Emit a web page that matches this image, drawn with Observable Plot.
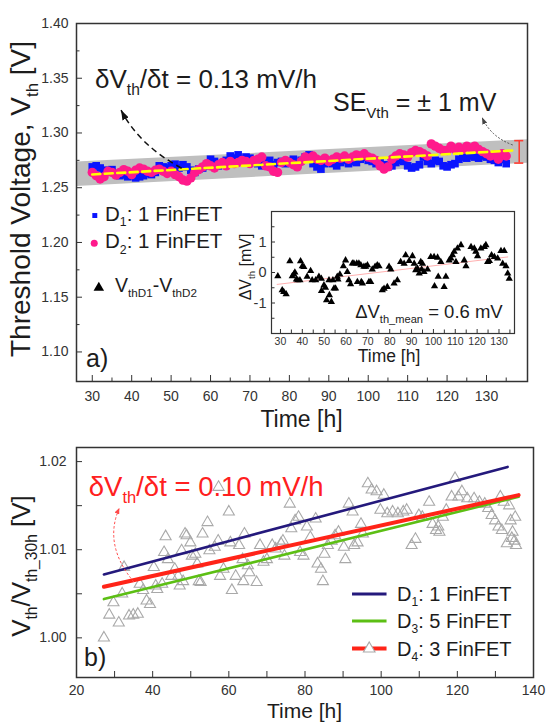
<!DOCTYPE html>
<html>
<head>
<meta charset="utf-8">
<script src="https://cdn.jsdelivr.net/npm/d3@7"></script>
<script src="https://cdn.jsdelivr.net/npm/@observablehq/plot@0.6"></script>
<style>
html,body{margin:0;padding:0;background:#fff;}
#fig{position:relative;width:546px;height:723px;overflow:hidden;background:#fff;}
#fig > svg{position:absolute;overflow:visible;}
</style>
</head>
<body>
<div id="fig"></div>
<script>
// ================= DATA =================
// panel a) : threshold voltage of two single-fin devices
const timeA = [30,31,32,33,34,35,36,37,38,39,40,41,42,43,44,45,46,47,48,49,
50,51,52,53,54,55,56,57,58,59,60,61,62,63,64,65,66,67,68,69,
70,71,72,73,74,75,76,77,78,79,80,81,82,83,84,85,86,87,88,89,
90,91,92,93,94,95,96,97,98,99,100,101,102,103,104,105,106,107,108,109,
110,111,112,113,114,115,116,117,118,119,120,121,122,123,124,125,126,127,128,129,
130,131,132,133,134,135];
const vthD1 = [1.2690,1.2700,1.2680,1.2660,1.2650,1.2665,1.2630,1.2610,1.2620,1.2600,
1.2610,1.2590,1.2600,1.2610,1.2630,1.2620,1.2640,1.2700,1.2690,1.2680,
1.2700,1.2715,1.2680,1.2710,1.2690,1.2660,1.2640,1.2670,1.2680,1.2700,
1.2760,1.2740,1.2700,1.2720,1.2750,1.2790,1.2770,1.2800,1.2760,1.2780,
1.2770,1.2740,1.2720,1.2700,1.2730,1.2750,1.2710,1.2730,1.2740,1.2720,
1.2740,1.2760,1.2730,1.2750,1.2780,1.2800,1.2720,1.2690,1.2670,1.2720,
1.2740,1.2720,1.2700,1.2730,1.2750,1.2720,1.2740,1.2730,1.2760,1.2780,
1.2750,1.2740,1.2720,1.2740,1.2710,1.2690,1.2700,1.2730,1.2750,1.2740,
1.2700,1.2680,1.2690,1.2710,1.2780,1.2740,1.2720,1.2750,1.2740,1.2700,
1.2690,1.2710,1.2720,1.2760,1.2780,1.2770,1.2790,1.2780,1.2770,1.2790,
1.2780,1.2760,1.2750,1.2730,1.2760,1.2720];
const vthD2 = [1.2640,1.2610,1.2580,1.2600,1.2650,1.2640,1.2615,1.2640,1.2665,1.2650,
1.2620,1.2660,1.2680,1.2670,1.2650,1.2640,1.2660,1.2670,1.2650,1.2630,
1.2650,1.2620,1.2600,1.2570,1.2560,1.2590,1.2640,1.2665,1.2690,1.2720,
1.2700,1.2680,1.2710,1.2730,1.2700,1.2740,1.2720,1.2730,1.2750,1.2740,
1.2720,1.2750,1.2760,1.2780,1.2700,1.2690,1.2650,1.2640,1.2730,1.2750,
1.2730,1.2710,1.2690,1.2740,1.2780,1.2770,1.2790,1.2760,1.2750,1.2770,
1.2740,1.2760,1.2780,1.2770,1.2790,1.2760,1.2780,1.2800,1.2790,1.2810,
1.2780,1.2770,1.2750,1.2700,1.2670,1.2690,1.2760,1.2790,1.2810,1.2800,
1.2780,1.2820,1.2840,1.2830,1.2810,1.2790,1.2900,1.2880,1.2860,1.2840,
1.2840,1.2880,1.2850,1.2870,1.2850,1.2880,1.2860,1.2880,1.2850,1.2830,
1.2810,1.2790,1.2800,1.2760,1.2810,1.2790];
const fitTimeA = [30, 136.5];
const fitVthA = [1.2621, 1.2840];
const bandTimeA = [26, 140.4];
const bandLowA = [1.2512, 1.2724];
const bandHighA = [1.2734, 1.2938];
const seTimeA = [138.3];
const seLowA = [1.2725];
const seHighA = [1.2930];
const xTicksA = [30,40,50,60,70,80,90,100,110,120,130];
const xMinorA = [35,45,55,65,75,85,95,105,115,125,135];
const yTicksA = [1.10,1.15,1.20,1.25,1.30,1.35,1.40];
const yMinorA = [1.125,1.175,1.225,1.275,1.325,1.375];
const legendNamesA = ["1","2"];
const legendFinsA = ["1 FinFET","1 FinFET"];

// inset : V_thD1 - V_thD2 [mV]
const timeDiff = [28.8,30.8,31.5,32.6,34.3,35.4,36.1,36.6,37.3,37.9,
38.9,39.2,40.0,40.7,42.2,43.8,44.5,46.1,47.6,48.7,
48.8,49.9,50.6,51.1,52.2,52.4,53.3,54.0,54.5,55.2,
56.0,56.3,57.2,58.8,59.8,60.6,61.3,62.1,62.9,63.6,
64.9,65.2,65.9,66.8,67.0,67.5,68.2,69.0,69.8,70.5,
71.3,72.0,73.3,74.3,75.1,76.6,77.4,78.9,79.7,80.5,
82.0,83.5,85.0,86.6,87.3,88.9,90.4,91.2,91.9,92.7,
93.5,94.2,94.6,95.0,95.7,97.3,98.8,100.3,100.5,101.9,
102.2,103.4,104.9,105.7,107.2,108.0,108.7,109.5,110.3,111.0,
112.6,114.1,114.9,117.2,118.7,119.4,120.2,121.7,123.3,124.0,
124.8,125.6,126.6,127.9,129.4,130.9,131.7,132.4,133.2,134.0,
134.7];
const dVth = [-0.12,-0.58,-0.64,-0.71,0.37,-0.12,-0.06,0.00,-0.23,-0.25,
-0.25,0.37,0.21,0.18,-0.14,0.05,-0.25,-0.25,-0.14,-0.20,
-0.60,-0.42,-0.50,-0.91,-0.25,-0.74,-0.96,-0.25,-0.52,-0.52,
-0.14,-0.23,-0.06,0.21,0.40,0.02,-0.25,-0.38,0.30,0.30,
0.30,-0.31,0.30,0.24,-0.31,-0.36,0.19,0.19,0.24,-0.31,
-0.31,0.10,0.19,0.24,0.21,-0.58,-0.53,-0.47,0.19,0.10,
-0.36,-0.25,0.35,0.29,0.57,0.38,0.54,0.29,0.08,0.13,
-0.03,0.35,0.10,0.29,0.02,0.10,0.51,0.51,-0.45,0.49,
-0.14,0.35,-0.47,-0.14,0.40,0.46,0.57,0.68,0.35,0.79,
0.90,0.40,0.21,0.84,0.79,0.68,0.54,0.79,0.84,0.90,
0.35,0.38,0.57,0.51,0.46,0.71,0.29,0.71,0.21,-0.03,
-0.20];
const diffFitTime = [28.5, 134];
const diffFitVal = [-0.39, 0.51];
const xTicksI = [30,40,50,60,70,80,90,100,110,120,130];
const xMinorI = [35,45,55,65,75,85,95,105,115,125,135];
const yTicksI = [-1,0,1];
const yMinorI = [-1.5,-0.5,0.5,1.5];

// panel b) : normalised threshold voltage
const timeB = [27.2,28.6,29.7,31.1,32.0,32.5,33.8,34.9,36.1,36.6,
37.5,38.4,39.3,40.3,40.8,41.2,42.5,43.0,43.4,44.0,
44.9,45.8,46.7,47.1,47.6,48.0,48.5,48.9,49.9,50.3,
51.2,51.7,52.1,52.6,53.1,54.4,54.9,56.3,57.2,57.3,
57.7,58.6,60.0,60.4,60.8,61.8,62.7,63.6,63.8,64.1,
65.0,65.4,67.3,68.2,69.1,70.0,71.4,72.3,73.7,74.2,
74.6,76.0,76.4,77.4,78.3,78.7,79.6,80.5,81.4,82.8,
83.3,84.2,84.7,85.1,86.0,87.0,87.9,88.8,90.2,90.6,
91.5,92.5,92.9,93.8,94.7,95.2,96.5,97.5,98.8,99.8,
100.7,101.6,103.0,104.4,105.8,106.7,108.0,109.0,109.9,110.8,
112.6,113.5,114.4,115.0,115.3,116.2,117.1,118.5,119.4,120.3,
121.2,122.6,124.4,125.8,127.2,128.1,129.0,129.9,130.8,131.3,
131.7,132.2,133.0,133.6,134.0,134.3,134.5,135.0,135.2,135.4];
const vthNormD4 = [1.0000,1.0026,1.0040,1.0017,1.0050,1.0080,1.0025,1.0026,1.0027,1.0061,
1.0054,1.0042,1.0038,1.0080,1.0059,1.0055,1.0061,1.0097,1.0115,1.0089,
1.0070,1.0078,1.0070,1.0059,1.0099,1.0064,1.0118,1.0116,1.0108,1.0093,
1.0095,1.0084,1.0064,1.0063,1.0118,1.0131,1.0099,1.0103,1.0110,1.0171,
1.0070,1.0078,1.0143,1.0108,1.0054,1.0070,1.0105,1.0089,1.0064,1.0118,
1.0082,1.0074,1.0063,1.0105,1.0086,1.0089,1.0105,1.0101,1.0107,1.0110,
1.0093,1.0152,1.0124,1.0133,1.0137,1.0097,1.0093,1.0126,1.0114,1.0135,
1.0084,1.0078,1.0064,1.0095,1.0105,1.0110,1.0116,1.0120,1.0103,1.0089,
1.0152,1.0143,1.0105,1.0108,1.0129,1.0118,1.0175,1.0168,1.0166,1.0145,
1.0162,1.0141,1.0143,1.0141,1.0143,1.0145,1.0105,1.0112,1.0139,1.0137,
1.0154,1.0129,1.0122,1.0126,1.0120,1.0137,1.0145,1.0160,1.0181,1.0160,
1.0166,1.0158,1.0158,1.0154,1.0152,1.0147,1.0139,1.0133,1.0126,1.0160,
1.0122,1.0154,1.0107,1.0150,1.0133,1.0113,1.0120,1.0110,1.0137,1.0105];
const fitTimeD1 = [27.2, 133.2];
const fitD1 = [1.0072, 1.0194];
const fitTimeD3 = [27.2, 136.1];
const fitD3 = [1.0044, 1.0160];
const fitTimeD4 = [27.2, 136.1];
const fitD4 = [1.0058, 1.0162];
const xTicksB = [20,40,60,80,100,120,140];
const xMinorB = [30,50,70,90,110,130];
const yTicksB = [1.00,1.01,1.02];
const yMinorB = [1.005,1.015];
const legendNamesB = ["1","3","4"];
const legendFinsB = ["1 FinFET","5 FinFET","3 FinFET"];

// ================= STYLE / HELPERS =================
const FONT = '"Liberation Sans", Arial, Helvetica, sans-serif';
const INK = "#1c1c1c";
const AX = "#333";
const BLUE = "#0a14ff", PINK = "#ff1a8c", YELLOW = "#ffff00", GREYBAND = "#bfbfbf";
const NAVY = "#24197c", GREEN = "#5cbf14", RED = "#ff2418", SEBAR = "#ff3b30";

const fig = document.getElementById("fig");
const zip = (a, b) => a.map((t, i) => ({t, v: b[i]}));

function rich(svg, x, y, parts, {size = 20, fill = INK, anchor = "start", rotate = 0, sub = 0.6, shift = 0.27} = {}) {
  const t = d3.select(svg).append("text")
    .attr("font-family", FONT).attr("font-size", size).attr("fill", fill)
    .attr("text-anchor", anchor).style("white-space", "pre");
  if (rotate) t.attr("transform", `translate(${x},${y}) rotate(${rotate})`);
  else t.attr("x", x).attr("y", y);
  let cur = 0;
  for (const p of parts) {
    const isSub = Array.isArray(p);
    const s = isSub ? p[0] : p;
    const target = isSub ? size * shift : 0;
    const ts = t.append("tspan").text(s).attr("dy", target - cur);
    if (isSub) ts.attr("font-size", size * sub);
    cur = target;
  }
  return t;
}

function arrow(svg, id, pts, {stroke = "#000", width = 1.4, dash = "5,4", head = [9, 7]} = {}) {
  const s = d3.select(svg);
  let defs = s.select("defs");
  if (defs.empty()) defs = s.append("defs");
  defs.append("marker").attr("id", id)
    .attr("viewBox", `0 0 ${head[0]} ${head[1]}`)
    .attr("refX", head[0]).attr("refY", head[1] / 2)
    .attr("markerWidth", head[0]).attr("markerHeight", head[1])
    .attr("markerUnits", "userSpaceOnUse").attr("orient", "auto")
    .append("path").attr("d", `M0,0L${head[0]},${head[1] / 2}L0,${head[1]}Z`).attr("fill", stroke);
  const [a, c, b] = pts;
  s.append("path").attr("d", `M${a[0]},${a[1]}Q${c[0]},${c[1]} ${b[0]},${b[1]}`)
    .attr("fill", "none").attr("stroke", stroke).attr("stroke-width", width)
    .attr("stroke-dasharray", dash).attr("marker-end", `url(#${id})`);
}

function axes(xMaj, xMin, yMaj, yMin, o) {
  return [
    Plot.axisX({ticks: xMaj, tickSize: -o.tl, tickPadding: o.xpad + o.tl, tickFormat: o.xf, label: null, fontSize: o.xfs, stroke: AX, fill: AX}),
    Plot.axisX({ticks: xMin, tickSize: -o.tm, tickFormat: () => "", label: null, stroke: AX}),
    Plot.axisY({ticks: yMaj, tickSize: -o.tl, tickPadding: o.ypad + o.tl, tickFormat: o.yf, label: null, fontSize: o.yfs, stroke: AX, fill: AX}),
    Plot.axisY({ticks: yMin, tickSize: -o.tm, tickFormat: () => "", label: null, stroke: AX})
  ];
}

// ================= PANEL A =================
const bandRows = bandTimeA.map((t, i) => ({t, lo: bandLowA[i], hi: bandHighA[i]}));
const seRows = seTimeA.map((t, i) => ({t, lo: seLowA[i], hi: seHighA[i]}));
const plotA = Plot.plot({
  width: 546, height: 440,
  marginLeft: 76, marginRight: 19, marginTop: 23, marginBottom: 59,
  x: {domain: [26, 140.4]},
  y: {domain: [1.073, 1.40]},
  style: {fontFamily: FONT, fontSize: "14px", color: INK, background: "transparent", overflow: "visible"},
  marks: [
    Plot.areaY(bandRows, {x: "t", y1: "lo", y2: "hi", fill: GREYBAND}),
    Plot.dot(zip(timeA, vthD1), {x: "t", y: "v", symbol: "square", r: 4.3, fill: BLUE}),
    Plot.dot(zip(timeA, vthD2), {x: "t", y: "v", r: 4.7, fill: PINK}),
    Plot.line(zip(fitTimeA, fitVthA), {x: "t", y: "v", stroke: YELLOW, strokeWidth: 2.6, strokeDasharray: "8,4.5"}),
    Plot.ruleX(seRows, {x: "t", y1: "lo", y2: "hi", stroke: SEBAR, strokeWidth: 1.6}),
    Plot.ruleY(seRows, {y: "lo", x1: d => d.t - 1.15, x2: d => d.t + 1.15, stroke: SEBAR, strokeWidth: 1.6}),
    Plot.ruleY(seRows, {y: "hi", x1: d => d.t - 1.15, x2: d => d.t + 1.15, stroke: SEBAR, strokeWidth: 1.6}),
    // legend symbols
    Plot.dot([{t: 30.64, v: 1.2246}], {x: "t", y: "v", symbol: "square", r: 2.8, fill: BLUE}),
    Plot.dot([{t: 30.5, v: 1.1993}], {x: "t", y: "v", r: 3.5, fill: PINK}),
    Plot.dot([{t: 31.66, v: 1.1586}], {x: "t", y: "v", symbol: "triangle", r: 3.9, fill: "#000"}),
    ...axes(xTicksA, xMinorA, yTicksA, yMinorA, {tl: 6, tm: 3.5, xpad: 10, ypad: 8, xf: d => d, yf: d => d.toFixed(2), xfs: 14, yfs: 14}),
    Plot.frame({stroke: AX, strokeWidth: 1.5})
  ]
});
plotA.style.left = "0px"; plotA.style.top = "0px";
fig.appendChild(plotA);
{
  const sx = plotA.scale("x"), sy = plotA.scale("y");
  const P = (t, v) => [sx.apply(t), sy.apply(v)];
  let p;
  p = P(30.82, 1.3406); rich(plotA, p[0], p[1], ["δV", ["th"], "/δt = 0.13 mV/h"], {size: 26});
  p = P(91.19, 1.3196); rich(plotA, p[0], p[1], ["SE", ["Vth"], " = ± 1 mV"], {size: 25});
  p = P(33.36, 1.2194); rich(plotA, p[0], p[1], ["D", [legendNamesA[0]], ": " + legendFinsA[0]], {size: 20.5});
  p = P(33.36, 1.1942); rich(plotA, p[0], p[1], ["D", [legendNamesA[1]], ": " + legendFinsA[1]], {size: 20.5});
  p = P(35.89, 1.1546); rich(plotA, p[0], p[1], ["V", ["thD1"], "-V", ["thD2"]], {size: 19.5});
  p = P(28.54, 1.0858); rich(plotA, p[0], p[1], ["a)"], {size: 25});
  arrow(plotA, "ahA1", [P(52.8, 1.2673), P(41.9, 1.2887), P(37.43, 1.3205)], {stroke: "#111", width: 1.5, dash: "6,4", head: [10, 7]});
  arrow(plotA, "ahA2", [P(136.77, 1.2886), P(131.18, 1.2960), P(128.98, 1.3139)], {stroke: "#444", width: 0.9, dash: "2,1.6", head: [7, 5]});
  // axis titles
  rich(plotA, 30, 199, ["Threshold Voltage, V", ["th"], " [V]"], {size: 28, anchor: "middle", rotate: -90});
  rich(plotA, 301.5, 427, ["Time [h]"], {size: 23, anchor: "middle"});
}

// ================= INSET =================
const plotI = Plot.plot({
  width: 289, height: 168,
  marginLeft: 40, marginRight: 6, marginTop: 10, marginBottom: 36,
  x: {domain: [25.9, 137.1]},
  y: {domain: [-2, 2]},
  style: {fontFamily: FONT, fontSize: "11px", color: INK, background: "white", overflow: "visible"},
  marks: [
    Plot.line(zip(diffFitTime, diffFitVal), {x: "t", y: "v", stroke: "#ffb0b0", strokeWidth: 1}),
    Plot.dot(zip(timeDiff, dVth), {x: "t", y: "v", symbol: "triangle", r: 2.7, fill: "#000"}),
    ...axes(xTicksI, xMinorI, yTicksI, yMinorI, {tl: 4, tm: 3.5, xpad: 4, ypad: 5, xf: d => d, yf: d => d, xfs: 10.5, yfs: 14.5}),
    Plot.frame({stroke: AX, strokeWidth: 1.2})
  ]
});
plotI.style.left = "231px"; plotI.style.top = "201px";
fig.appendChild(plotI);
{
  const sx = plotI.scale("x"), sy = plotI.scale("y");
  const p = [sx.apply(64.4), sy.apply(-1.52)];
  rich(plotI, p[0], p[1], ["ΔV", ["th_mean"], " = 0.6 mV"], {size: 18.5});
  rich(plotI, 158, 161, ["Time [h]"], {size: 17.5, anchor: "middle"});
  rich(plotI, 20, 66, ["ΔV", ["th"], " [mV]"], {size: 16, anchor: "middle", rotate: -90});
}

// ================= PANEL B =================
const plotB = Plot.plot({
  width: 546, height: 283,
  marginLeft: 76, marginRight: 13, marginTop: 7, marginBottom: 46,
  x: {domain: [20, 140]},
  y: {domain: [0.9955, 1.0216]},
  style: {fontFamily: FONT, fontSize: "14px", color: INK, background: "transparent", overflow: "visible"},
  marks: [
    Plot.dot(zip(timeB, vthNormD4), {x: "t", y: "v", symbol: "triangle", r: 4.1, fill: "none", stroke: "#a9a9a9", strokeWidth: 1.1}),
    Plot.line(zip(fitTimeD1, fitD1), {x: "t", y: "v", stroke: NAVY, strokeWidth: 2.6}),
    Plot.line(zip(fitTimeD3, fitD3), {x: "t", y: "v", stroke: GREEN, strokeWidth: 2.6}),
    Plot.line(zip(fitTimeD4, fitD4), {x: "t", y: "v", stroke: RED, strokeWidth: 4}),
    ...axes(xTicksB, xMinorB, yTicksB, yMinorB, {tl: 6, tm: 6, xpad: 7.5, ypad: 10, xf: d => d, yf: d => d.toFixed(2), xfs: 14, yfs: 14}),
    Plot.frame({stroke: AX, strokeWidth: 1.5})
  ]
});
plotB.style.left = "0px"; plotB.style.top = "440px";
fig.appendChild(plotB);
{
  const sx = plotB.scale("x"), sy = plotB.scale("y");
  const P = (t, v) => [sx.apply(t), sy.apply(v)];
  const svg = d3.select(plotB);
  let p;
  p = P(23.36, 1.01604); rich(plotB, p[0], p[1], ["δV", ["th"], "/δt = 0.10 mV/h"], {size: 27.5, fill: "#ff2020"});
  arrow(plotB, "ahB1", [P(35.2, 1.00628), P(27.1, 1.01048), P(31.38, 1.01468)], {stroke: "#ff4a4a", width: 1, dash: "2.5,2", head: [6, 5]});
  p = P(22.1, 0.99675); rich(plotB, p[0], p[1], ["b)"], {size: 25});
  // legend
  const legColors = [NAVY, GREEN, RED], legWidths = [3, 3, 4], legV = [1.00492, 1.00186, 0.99872];
  legV.forEach((v, i) => {
    const a = P(92.48, v), b = P(101.54, v);
    svg.append("line").attr("x1", a[0]).attr("x2", b[0]).attr("y1", a[1]).attr("y2", b[1])
      .attr("stroke", legColors[i]).attr("stroke-width", legWidths[i]);
    const tp = P(104.3, v);
    rich(plotB, tp[0], tp[1] + 7, ["D", [legendNamesB[i]], ": " + legendFinsB[i]], {size: 20});
  });
  const c = P(97.0, legV[2]);
  svg.append("path").attr("d", d3.symbol(d3.symbolTriangle, Math.PI * 4.3 * 4.3)())
    .attr("transform", `translate(${c[0]},${c[1]})`).attr("fill", "white").attr("stroke", "#a9a9a9").attr("stroke-width", 1.1);
  // axis titles
  rich(plotB, 30, 126, ["V", ["th"], "/V", ["th_30h"], " [V]"], {size: 26, anchor: "middle", rotate: -90});
  rich(plotB, 304.5, 277.5, ["Time [h]"], {size: 21, anchor: "middle"});
}
</script>
</body>
</html>
